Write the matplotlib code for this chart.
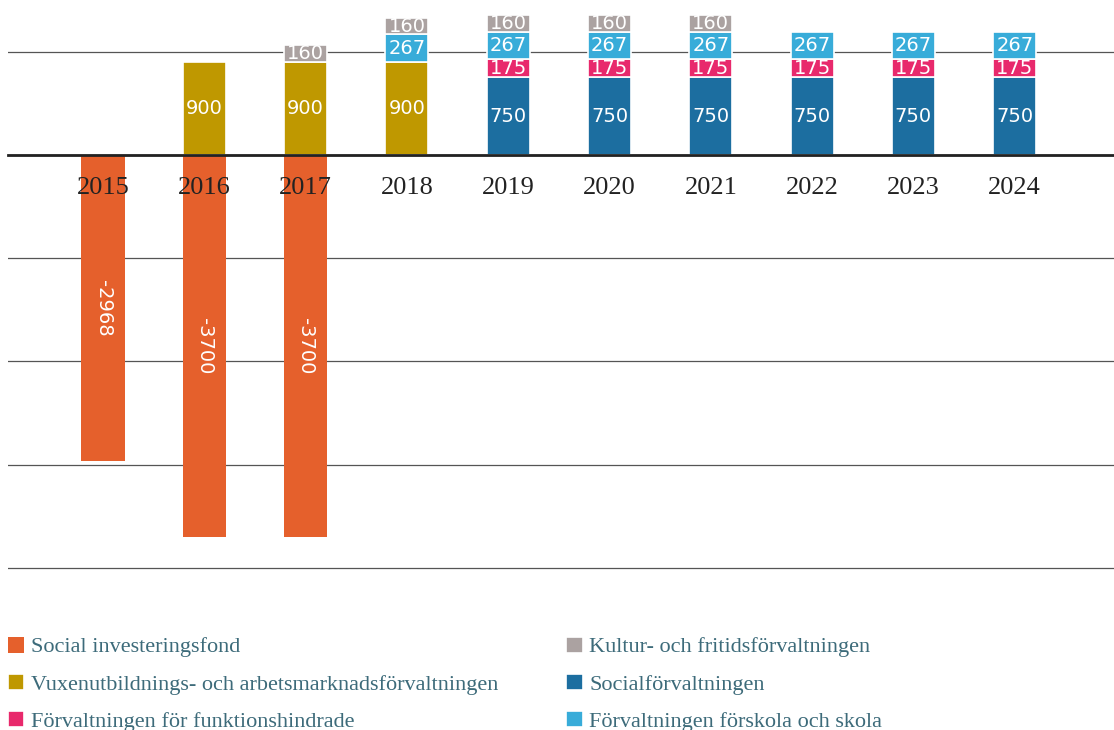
import numpy as np
import matplotlib.pyplot as plt

plt.rcParams['font.family'] = ['Liberation Serif', 'DejaVu Serif']

years = ['2015', '2016', '2017', '2018', '2019', '2020', '2021', '2022', '2023', '2024']
social_fond = [-2968, -3700, -3700, 0, 0, 0, 0, 0, 0, 0]
vuxen = [0, 900, 900, 900, 0, 0, 0, 0, 0, 0]
socialforv = [0, 0, 0, 0, 750, 750, 750, 750, 750, 750]
funktion = [0, 0, 0, 0, 175, 175, 175, 175, 175, 175]
forskola = [0, 0, 0, 267, 267, 267, 267, 267, 267, 267]
kultur = [0, 0, 160, 160, 160, 160, 160, 0, 0, 0]

names = ['Social investeringsfond',
         'Vuxenutbildnings- och arbetsmarknadsförvaltningen',
         'Socialförvaltningen',
         'Förvaltningen för funktionshindrade',
         'Förvaltningen förskola och skola',
         'Kultur- och fritidsförvaltningen']
colors = ['#e5602c', '#bf9800', '#1c6ea0', '#e8296c', '#38acd9', '#aba2a1']

fig = plt.figure(figsize=(11.14, 7.3), dpi=100)
ax = fig.add_axes([0.007, 0.218, 0.993, 0.782])
x = np.arange(len(years))
w = 0.425

handles = {}
# negative fund
vals = np.array(social_fond)
m = vals != 0
b = ax.bar(x[m], vals[m], w, color=colors[0], linewidth=0, zorder=2)
handles[names[0]] = b
for xi, v in zip(x[m], vals[m]):
    ax.text(xi, v / 2, str(v), rotation=270, ha='center', va='center',
            color='white', fontsize=14, family='DejaVu Sans', zorder=4)

# positive stacks
bottom = np.zeros(len(years))
for name, col, series in zip(names[1:], colors[1:], [vuxen, socialforv, funktion, forskola, kultur]):
    vals = np.array(series, dtype=float)
    m = vals != 0
    b = ax.bar(x[m], vals[m], w, bottom=bottom[m], color=col, edgecolor='white',
               linewidth=1.2, zorder=2)
    handles[name] = b
    for xi, v, bt in zip(x[m], vals[m], bottom[m]):
        ax.text(xi, bt + v / 2, str(int(v)), ha='center', va='center',
                color='white', fontsize=14, family='DejaVu Sans', zorder=4)
    bottom += vals

ax.set_xlim(-0.94, 9.98)
ax.set_ylim(-4030, 1500)
ax.set_yticks([-4000, -3000, -2000, -1000, 0, 1000])
ax.yaxis.grid(True, color='#555555', linewidth=0.9)
ax.yaxis.set_zorder(0.5)
ax.xaxis.set_zorder(5)
ax.tick_params(axis='y', left=False, labelleft=False)
ax.tick_params(axis='x', length=0, pad=16, labelsize=19, labelcolor='#222222')
ax.set_xticks(x)
ax.set_xticklabels(years)
for s in ['left', 'right', 'top']:
    ax.spines[s].set_visible(False)
ax.spines['bottom'].set_position(('data', 0))
ax.spines['bottom'].set_linewidth(2)
ax.spines['bottom'].set_color('#222222')

leg_kw = dict(frameon=False, loc='upper left', handlelength=0.75, handleheight=0.75,
              handletextpad=0.3, labelspacing=0.73, borderpad=0, borderaxespad=0,
              prop={'family': 'Liberation Serif', 'size': 16}, labelcolor='#3d6b7a')
left_names = [names[0], names[1], names[3]]
right_names = [names[5], names[2], names[4]]
fig.legend([handles[n] for n in left_names], left_names,
           bbox_to_anchor=(0.007, 0.128), **leg_kw)
fig.legend([handles[n] for n in right_names], right_names,
           bbox_to_anchor=(0.508, 0.128), **leg_kw)

fig.savefig('out.png', dpi=100)
